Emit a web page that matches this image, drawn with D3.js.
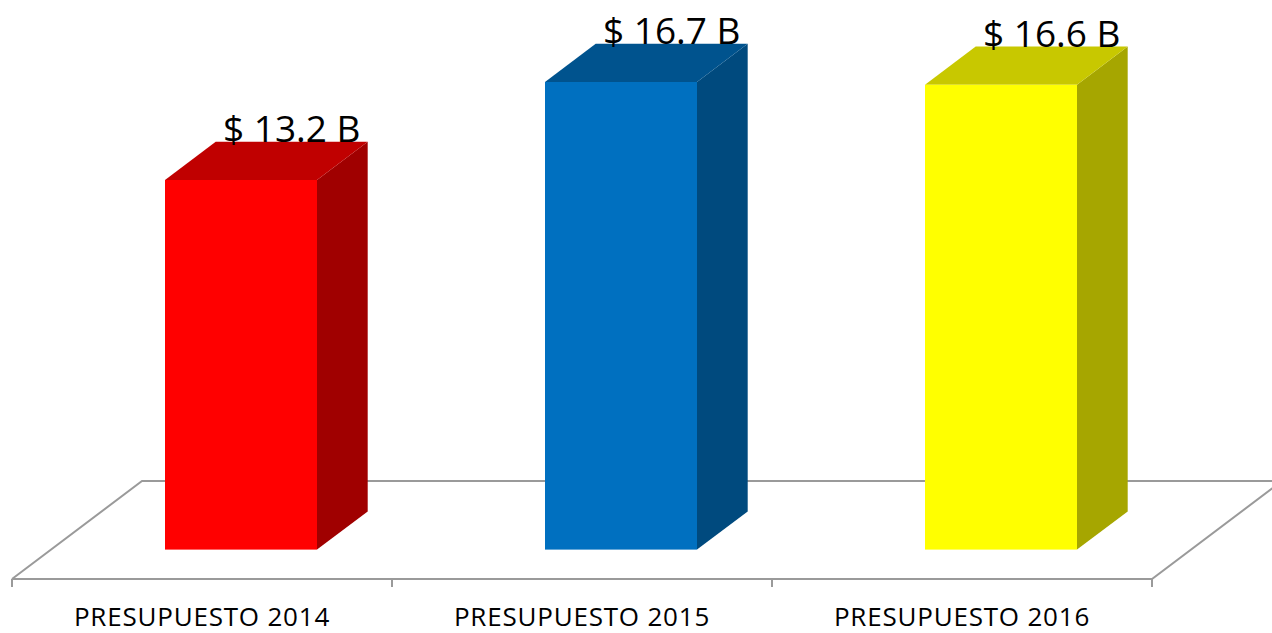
<!DOCTYPE html>
<html>
<head>
<meta charset="utf-8">
<script src="https://cdn.jsdelivr.net/npm/d3@7"></script>
<style>
  html, body { margin: 0; padding: 0; background: #fff; }
  svg { display: block; font-family: "Open Sans", "Liberation Sans", sans-serif; }
</style>
</head>
<body>
<svg id="chart" width="1272" height="633"></svg>
<script>
// datos
var categorias = ["PRESUPUESTO 2014", "PRESUPUESTO 2015", "PRESUPUESTO 2016"];
var valores = [13.2, 16.7, 16.6];
var etiquetas = ["$ 13.2 B", "$ 16.7 B", "$ 16.6 B"];
var colorFrente = ["#ff0000", "#0070c0", "#ffff00"];
var colorTapa = ["#c00000", "#00538e", "#c8c800"];
var colorLado = ["#a00000", "#004a7e", "#a6a600"];

var svg = d3.select("#chart");

// piso 3D: linea frontal y vector de profundidad
var pisoY = 579;
var prof = {x: 130, y: -98};
var bandaIni = 0.30, bandaFin = 0.69; // fraccion de profundidad ocupada por las barras

var x = d3.scaleBand()
  .domain(categorias)
  .range([12, 1152])
  .padding(0);

var alto = d3.scaleLinear()
  .domain([0, 20])
  .range([0, 560]);

var anchoBarra = x.bandwidth() * 0.40;

// piso
var floor = svg.append("g").attr("class", "piso")
  .attr("fill", "none")
  .attr("stroke", "#9a9a9a")
  .attr("stroke-width", 2);

var x0 = x.range()[0], x1 = x.range()[1];
floor.append("path")
  .attr("d", d3.line()([
    [x0, pisoY], [x1, pisoY], [x1 + prof.x, pisoY + prof.y],
    [x0 + prof.x, pisoY + prof.y], [x0, pisoY]
  ]));

// marcas del eje
floor.selectAll("line.tick")
  .data(d3.range(categorias.length + 1))
  .enter()
  .append("line")
  .attr("class", "tick")
  .attr("x1", i => x0 + i * x.step())
  .attr("x2", i => x0 + i * x.step())
  .attr("y1", pisoY)
  .attr("y2", pisoY + 8);

// barras
var barras = svg.append("g").attr("class", "barras")
  .selectAll("g")
  .data(valores)
  .enter()
  .append("g");

function geo(d, i) {
  var cx = x(categorias[i]) + x.bandwidth() / 2;
  var fx = cx + prof.x * bandaIni - anchoBarra / 2;
  var fy = pisoY + prof.y * bandaIni;
  var dx = prof.x * (bandaFin - bandaIni), dy = prof.y * (bandaFin - bandaIni);
  var h = alto(d);
  return {fx: fx, fy: fy, w: anchoBarra, h: h, dx: dx, dy: dy};
}

// cara lateral
barras.append("path")
  .attr("fill", (d, i) => colorLado[i])
  .attr("d", (d, i) => {
    var g = geo(d, i);
    return d3.line()([
      [g.fx + g.w, g.fy], [g.fx + g.w + g.dx, g.fy + g.dy],
      [g.fx + g.w + g.dx, g.fy + g.dy - g.h], [g.fx + g.w, g.fy - g.h]
    ]) + "Z";
  });

// tapa
barras.append("path")
  .attr("fill", (d, i) => colorTapa[i])
  .attr("d", (d, i) => {
    var g = geo(d, i);
    return d3.line()([
      [g.fx, g.fy - g.h], [g.fx + g.w, g.fy - g.h],
      [g.fx + g.w + g.dx, g.fy + g.dy - g.h], [g.fx + g.dx, g.fy + g.dy - g.h]
    ]) + "Z";
  });

// frente
barras.append("rect")
  .attr("fill", (d, i) => colorFrente[i])
  .attr("x", (d, i) => geo(d, i).fx)
  .attr("y", (d, i) => geo(d, i).fy - geo(d, i).h)
  .attr("width", anchoBarra)
  .attr("height", (d, i) => geo(d, i).h);

// etiquetas de valor
barras.append("text")
  .attr("x", (d, i) => { var g = geo(d, i); return g.fx + g.w / 2 + g.dx; })
  .attr("y", (d, i) => { var g = geo(d, i); return g.fy + g.dy - g.h; })
  .attr("text-anchor", "middle")
  .attr("font-size", 37)
  .attr("fill", "#000")
  .text((d, i) => etiquetas[i]);

// etiquetas de categoria
svg.append("g").attr("class", "categorias")
  .selectAll("text")
  .data(categorias)
  .enter()
  .append("text")
  .attr("x", d => x(d) + x.bandwidth() / 2)
  .attr("y", 626)
  .attr("text-anchor", "middle")
  .attr("font-size", 26)
  .attr("letter-spacing", 0.8)
  .attr("fill", "#000")
  .text(d => d);
</script>
</body>
</html>
